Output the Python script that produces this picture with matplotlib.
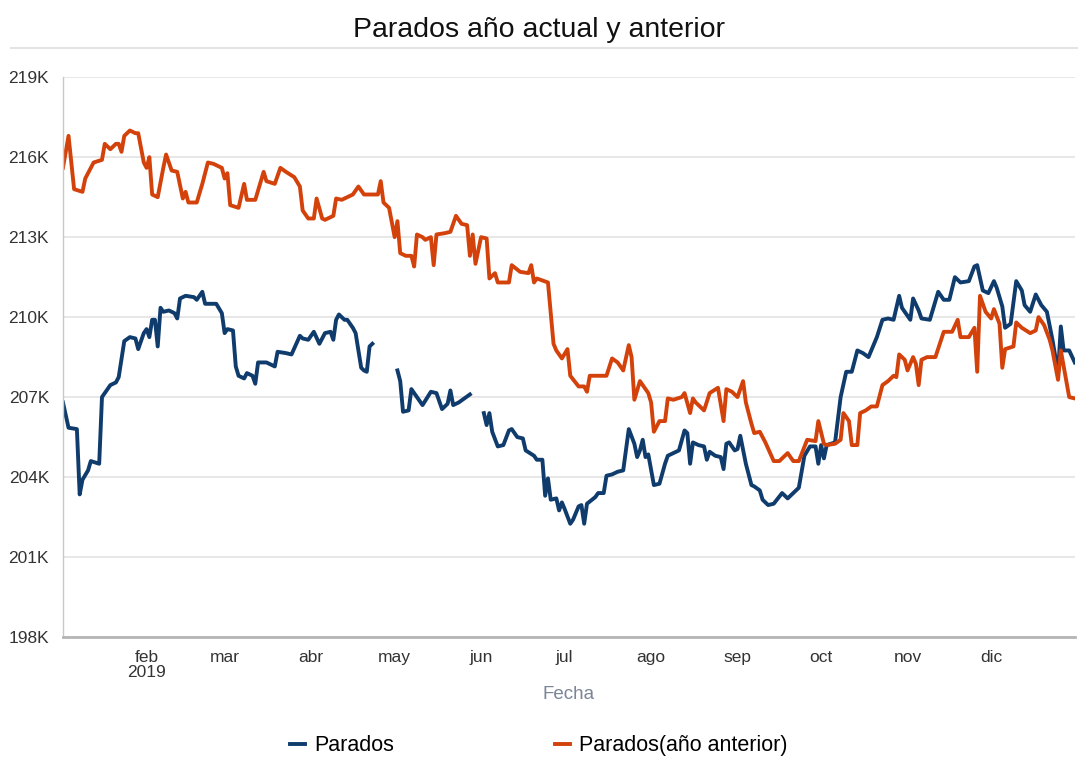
import numpy as np
import pandas as pd
import matplotlib
matplotlib.use("Agg")
import matplotlib.pyplot as plt
from matplotlib.lines import Line2D

plt.rcParams['font.family'] = ['Liberation Sans', 'DejaVu Sans']

# days counted from 1 Jan 2019, values in thousands of parados
dias_actual = [1, 3, 6, 7, 8, 10, 11, 14, 15, 16, 18, 20, 21, 23, 25, 27, 28, 30, 31, 32,
               33, 34, 35, 36, 37, 39, 41, 42, 43, 45, 48, 49, 51, 52, 56, 58, 59, 60, 62, 63,
               64, 66, 67, 69, 70, 71, 74, 77, 78, 81, 83, 86, 87, 89, 91, 93, 95, 97, 98, 99,
               100, 102, 103, 105, 106, 108, 109, 110, 111, 112,
               116,
               121, 122, 123, 125, 126, 128, 130, 133, 135, 137, 139, 140, 141, 143, 145, 147,
               150,
               152, 153, 154, 155, 157, 159, 161, 162, 164, 166, 167, 170, 171, 173, 174, 175,
               176, 178, 179, 180, 181, 183, 184, 186, 187, 188, 189, 192, 193, 195, 196, 198,
               200, 202, 204, 206, 207, 208, 209, 210, 211, 213, 215, 217, 218, 220, 222, 224,
               225, 226, 227, 229, 231, 232, 233, 235, 237, 238, 239, 240, 242, 243, 244, 246,
               248, 249, 251, 252, 254, 256, 259, 261, 263, 265, 267, 269, 271, 272, 273, 274,
               275, 278, 280, 282, 284, 286, 288, 290, 293, 295, 297, 299, 301, 302, 305, 306,
               308, 309, 312, 315, 317, 319, 321, 323, 326, 328, 329, 331, 333, 335, 336, 338,
               339, 341, 343, 345, 346, 348, 350, 352, 354, 356, 358, 359, 360, 362, 364]
parados = [206.8, 205.85, 205.8, 203.35, 203.9, 204.25, 204.6, 204.5, 207.0, 207.15, 207.45,
           207.55, 207.75, 209.1, 209.25, 209.2, 208.8, 209.4, 209.55, 209.25,
           209.9, 209.9, 208.9, 210.35, 210.2, 210.25, 210.15, 209.95, 210.7, 210.8, 210.75,
           210.65, 210.95, 210.5, 210.5, 210.15, 209.4, 209.55, 209.5, 208.15,
           207.8, 207.7, 207.9, 207.8, 207.5, 208.3, 208.3, 208.15, 208.7, 208.65, 208.6,
           209.3, 209.2, 209.15, 209.45, 209.0, 209.4, 209.45, 209.15, 209.9,
           210.1, 209.9, 209.9, 209.6, 209.4, 208.1, 208.0, 207.95, 208.9, 209.0,
           np.nan,
           208.0, 207.6, 206.45, 206.5, 207.3, 207.0, 206.7, 207.2, 207.15, 206.55, 206.75,
           207.25, 206.7, 206.8, 206.95, 207.1,
           np.nan,
           206.4, 205.95, 206.4, 205.7, 205.15, 205.2, 205.75, 205.8, 205.5, 205.45, 205.0,
           204.8, 204.65, 204.65, 203.3, 203.95,
           203.15, 203.2, 202.75, 203.05, 202.8, 202.25, 202.4, 202.9, 202.95, 202.25, 203.0,
           203.25, 203.4, 203.4, 204.05, 204.1,
           204.2, 204.25, 205.8, 205.25, 204.75, 205.0, 205.4, 204.75, 204.85, 203.7, 203.75,
           204.5, 204.8, 204.9, 205.0, 205.75,
           205.65, 204.5, 205.3, 205.2, 205.15, 204.65, 204.95, 204.8, 204.75, 204.3, 205.25,
           205.3, 205.0, 205.05, 205.55, 204.5,
           203.7, 203.65, 203.5, 203.15, 202.95, 203.0, 203.4, 203.2, 203.4, 203.6, 204.8,
           205.15, 205.15, 204.5, 205.2, 204.7,
           205.2, 205.3, 207.0, 207.95, 207.95, 208.75, 208.65, 208.5, 209.25, 209.9, 209.95,
           209.9, 210.8, 210.35, 209.9, 210.7,
           210.25, 209.95, 209.9, 210.95, 210.65, 210.65, 211.5, 211.3, 211.35, 211.9, 211.95,
           211.0, 210.9, 211.35, 211.1, 210.4,
           209.6, 209.75, 211.35, 211.0, 210.45, 210.2, 210.85, 210.45, 210.2, 209.15, 207.9,
           209.65, 208.75, 208.75, 208.3]

dias_anterior = [1, 3, 5, 8, 9, 12, 15, 16, 18, 20, 21, 22, 23, 25, 27, 28, 30, 31, 32, 33,
                 35, 37, 38, 40, 42, 44, 45, 46, 49, 51, 53, 55, 58, 59, 60, 61, 64, 66, 67, 70,
                 73, 74, 77, 79, 81, 84, 86, 87, 89, 91, 92, 94, 95, 98, 99, 101, 103, 105, 107,
                 109, 111, 114, 115, 116, 118, 120, 121, 122, 124, 126, 127, 128, 130, 131, 133,
                 134, 135, 138, 140, 142, 144, 146, 147, 148, 149, 151, 153, 154, 156, 157, 161,
                 162, 165, 168, 169, 170, 171, 175, 177, 178, 180, 182, 183, 186, 188, 189, 190,
                 193, 196, 198, 200, 202, 204, 205, 206, 208, 209, 211, 212, 213, 215, 217, 218,
                 220, 223, 224, 226, 227, 228, 231, 233, 236, 238, 239, 241, 243, 245, 246, 248,
                 249, 251, 253, 256, 258, 261, 263, 265, 268, 271, 272, 274, 275, 278, 280, 281,
                 283, 284, 286, 287, 289, 291, 293, 295, 297, 299, 300, 301, 303, 304, 306, 307,
                 308, 309, 311, 314, 317, 320, 322, 323, 326, 328, 329, 330, 332, 334, 335, 337,
                 338, 339, 342, 343, 345, 348, 350, 351, 353, 355, 356, 358, 359, 362, 364]
parados_anterior = [215.6, 216.8, 214.8, 214.7, 215.2, 215.8, 215.9, 216.5, 216.3, 216.5,
                    216.5, 216.2, 216.8, 217.0, 216.9, 216.9, 215.8, 215.6, 216.0, 214.6,
                    214.5, 215.6, 216.1, 215.5, 215.45, 214.45, 214.7, 214.3, 214.3, 215.0,
                    215.8, 215.75, 215.6, 215.2, 215.4, 214.2, 214.1, 215.0, 214.4, 214.4,
                    215.45, 215.1, 215.0, 215.6, 215.45, 215.25, 214.9, 214.0, 213.7, 213.7,
                    214.45, 213.7, 213.65, 213.8, 214.45, 214.4, 214.5, 214.6, 214.9,
                    214.6, 214.6, 214.6, 215.1, 214.3, 214.1, 213.0, 213.6, 212.4, 212.3,
                    212.3, 211.9, 213.1, 213.0, 212.9, 213.0,
                    211.95, 213.1, 213.15, 213.2, 213.8, 213.5, 213.45, 212.3, 213.1, 212.0,
                    213.0, 212.95, 211.45, 211.65, 211.3, 211.3,
                    211.95, 211.7, 211.65, 211.95, 211.3, 211.45, 211.3, 209.0, 208.75, 208.45,
                    208.8, 207.8, 207.4, 207.4, 207.2, 207.8,
                    207.8, 207.8, 208.45, 208.3, 208.0, 208.95, 208.5, 206.9, 207.6, 207.45,
                    207.15, 206.8, 205.7, 206.1, 206.1, 206.95,
                    206.9, 207.0, 207.15, 206.4, 206.95, 206.8, 206.5, 207.15, 207.35, 206.1,
                    207.3, 207.2, 207.0, 207.6, 206.8, 206.0,
                    205.65, 205.7, 205.3, 204.6, 204.6, 204.9, 204.6, 204.6, 205.4, 205.35,
                    206.1, 205.25, 205.2, 205.25, 205.4, 206.4,
                    206.1, 205.2, 205.2, 206.4, 206.5, 206.65, 206.65, 207.45, 207.6, 207.8,
                    207.75, 208.6, 208.4, 208.0, 208.5, 208.25,
                    207.45, 208.4, 208.5, 208.5, 209.45, 209.45, 209.9, 209.25, 209.25, 209.6,
                    207.95, 210.8, 210.2, 209.95, 210.3, 209.75,
                    208.1, 208.8, 208.9, 209.8, 209.6, 209.4, 209.5, 210.0, 209.7, 209.15,
                    208.75, 207.65, 208.75, 207.0, 206.95]

meses = ['feb\n2019', 'mar', 'abr', 'may', 'jun', 'jul', 'ago', 'sep', 'oct', 'nov', 'dic']
y_ticks = [198, 201, 204, 207, 210, 213, 216, 219]

inicio = pd.Timestamp('2019-01-01')
fechas_actual = inicio + pd.to_timedelta(dias_actual, unit='D')
fechas_anterior = inicio + pd.to_timedelta(dias_anterior, unit='D')

azul = '#0f3c6c'
naranja = '#d4420c'

fig = plt.figure(figsize=(10.78, 7.57), dpi=100)
ax = fig.add_axes([0.0584, 0.1585, 0.9386, 0.7395])

ax.plot(fechas_actual, parados, color=azul, lw=2.8, label='Parados', solid_joinstyle='round')
ax.plot(fechas_anterior, parados_anterior, color=naranja, lw=2.8,
        label='Parados(año anterior)', solid_joinstyle='round')

ax.set_xlim(pd.Timestamp('2019-01-02'), pd.Timestamp('2019-12-31'))
ax.set_ylim(198, 219)
ax.set_yticks(y_ticks)
ax.set_yticklabels([f'{v}K' for v in y_ticks])
month_starts = pd.date_range('2019-02-01', '2019-12-01', freq='MS')
ax.set_xticks(month_starts)
ax.set_xticklabels(meses, linespacing=1.0)

ax.grid(axis='y', color='#e3e3e3', lw=1.2)
ax.set_axisbelow(True)
ax.tick_params(axis='both', length=0, labelsize=12.5, colors='#333333')
ax.tick_params(axis='x', pad=9)
ax.tick_params(axis='y', pad=10)
for s in ['top', 'right']:
    ax.spines[s].set_visible(False)
ax.spines['left'].set_color('#c8c8c8')
ax.spines['left'].set_linewidth(1.0)
ax.spines['bottom'].set_color('#b5b5b5')
ax.spines['bottom'].set_linewidth(2.0)

ax.set_xlabel('Fecha', color='#7a8596', fontsize=13.5, labelpad=5)

fig.text(0.5, 0.96, 'Parados año actual y anterior', ha='center', va='center',
         fontsize=20.5, color='#111111')
fig.add_artist(Line2D([0.01, 1.0], [0.936, 0.936], transform=fig.transFigure,
                      color='#e3e3e3', lw=1.5))

fig.legend(loc='center', bbox_to_anchor=(0.5, 0.015), ncol=2, frameon=False,
           fontsize=15.5, handlelength=0.7, handletextpad=0.4, columnspacing=7.5)

fig.savefig('out.png', dpi=100)
